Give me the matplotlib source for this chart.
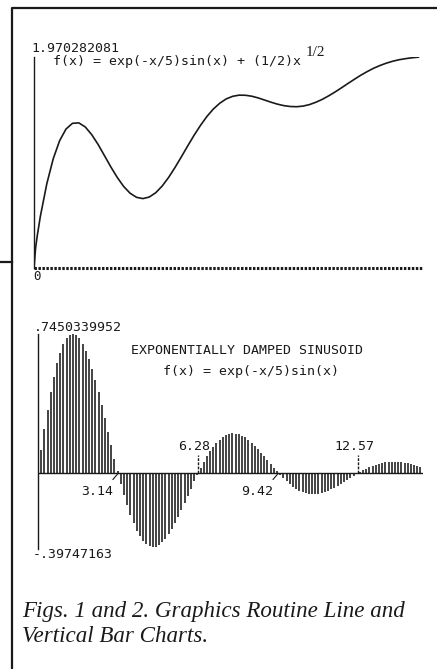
import matplotlib
matplotlib.use('Agg')
import matplotlib.pyplot as plt

# page size in pixels
W, H = 437, 669

# Fig. 1 - line chart
line_x = [0.0, 0.0625, 0.125, 0.25, 0.5, 0.75, 1.0, 1.25, 1.5, 1.75, 2.0,
          2.25, 2.5, 2.75, 3.0, 3.25, 3.5, 3.75, 4.0, 4.25, 4.5, 4.75, 5.0,
          5.25, 5.5, 5.75, 6.0, 6.25, 6.5, 6.75, 7.0, 7.25, 7.5, 7.75, 8.0,
          8.25, 8.5, 8.75, 9.0, 9.25, 9.5, 9.75, 10.0, 10.25, 10.5, 10.75,
          11.0, 11.25, 11.5, 11.75, 12.0, 12.25, 12.5, 12.75, 13.0, 13.25,
          13.5, 13.75, 14.0, 14.25, 14.5, 14.75, 15.0]
line_y = [0.0, 0.187, 0.298, 0.485, 0.787, 1.020, 1.189, 1.298, 1.351, 1.355,
          1.317, 1.246, 1.154, 1.049, 0.943, 0.845, 0.761, 0.698, 0.660, 0.648,
          0.663, 0.703, 0.765, 0.845, 0.938, 1.038, 1.141, 1.241, 1.333, 1.416,
          1.485, 1.539, 1.579, 1.603, 1.614, 1.613, 1.604, 1.588, 1.568, 1.548,
          1.530, 1.516, 1.508, 1.506, 1.512, 1.526, 1.548, 1.575, 1.608, 1.644,
          1.683, 1.723, 1.762, 1.800, 1.834, 1.865, 1.891, 1.913, 1.931, 1.945,
          1.955, 1.963, 1.969]
line_max = 1.970282081

# Fig. 2 - vertical bars, one every 0.125
bar_x = [0.125 * k for k in range(1, 121)]
bar_y = [0.122, 0.235, 0.340, 0.434, 0.516, 0.587, 0.644, 0.689, 0.721, 0.739,
         0.745, 0.739, 0.721, 0.693, 0.656, 0.610, 0.556, 0.496, 0.432, 0.363,
         0.292, 0.220, 0.149, 0.077, 0.009, -0.057, -0.118, -0.174, -0.225, -0.270,
         -0.309, -0.340, -0.365, -0.383, -0.393, -0.398, -0.395, -0.386, -0.372, -0.353,
         -0.329, -0.301, -0.269, -0.235, -0.199, -0.161, -0.124, -0.084, -0.046, -0.010,
         0.026, 0.059, 0.089, 0.117, 0.141, 0.162, 0.179, 0.193, 0.203, 0.209,
         0.212, 0.211, 0.207, 0.200, 0.190, 0.177, 0.162, 0.146, 0.128, 0.109,
         0.089, 0.068, 0.048, 0.027, 0.008, -0.011, -0.029, -0.046, -0.060, -0.074,
         -0.085, -0.095, -0.102, -0.108, -0.111, -0.113, -0.113, -0.111, -0.107, -0.102,
         -0.096, -0.088, -0.079, -0.070, -0.059, -0.049, -0.038, -0.027, -0.016, -0.005,
         0.005, 0.014, 0.023, 0.031, 0.038, 0.045, 0.050, 0.054, 0.057, 0.059,
         0.060, 0.060, 0.059, 0.058, 0.055, 0.051, 0.047, 0.043, 0.038, 0.032]
bar_max = 0.7450339952
bar_min = -0.39747163
tick_pos = [3.14, 6.28, 9.42, 12.57]
tick_lab = ['3.14', '6.28', '9.42', '12.57']

ink = '#1a1a1a'
mono = 'DejaVu Sans Mono'


def px_rect(x0, y0, x1, y1):
    return [x0 / W, 1 - y1 / H, (x1 - x0) / W, (y1 - y0) / H]


def ptext(x, y, s, **kw):
    fig.text(x / W, 1 - y / H, s, color=ink, **kw)


fig = plt.figure(figsize=(W / 100, H / 100), dpi=100)
fig.patch.set_facecolor('white')

# page box
frame = fig.add_axes([0, 0, 1, 1])
frame.set_xlim(0, W)
frame.set_ylim(H, 0)
frame.axis('off')
frame.plot([12, 12, W], [H, 8, 8], color=ink, lw=1.6)
frame.plot([0, 12], [262, 262], color=ink, lw=1.6)

# ---- Fig. 1 ----
ax1 = fig.add_axes(px_rect(34, 57, 421, 268))
ax1.set_xlim(0, 15.1)
ax1.set_ylim(0, line_max)
ax1.axis('off')
ax1.plot(line_x, line_y, color=ink, lw=1.2)
ax1.plot([0, 0], [0, line_max], color=ink, lw=1.0, clip_on=False)
ax1.plot([0, 15.15], [0, 0], color=ink, lw=2.2, ls=(0, (0.8, 0.5)),
         clip_on=False)

ptext(31, 49, '%.9f' % line_max, fontsize=9.5, family=mono, va='center')
ptext(33, 277, '0', fontsize=9, family=mono, va='center')
ptext(53, 62, 'f(x) = exp(-x/5)sin(x) + (1/2)x', fontsize=9.5, family=mono,
      va='center')
ptext(306, 52, '1/2', fontsize=11, family='Liberation Serif', va='center')

# ---- Fig. 2 ----
ax2 = fig.add_axes(px_rect(38, 334, 423, 547))
ax2.set_xlim(0, 15.1)
ax2.set_ylim(bar_min, bar_max)
ax2.axis('off')
ax2.vlines(bar_x, 0, bar_y, color=ink, lw=1.15)
ax2.plot([0, 0], [bar_min - 0.01, bar_max], color=ink, lw=1.0, clip_on=False)
ax2.plot([0, 15.1], [0, 0], color=ink, lw=1.0)

for i, (p, lab) in enumerate(zip(tick_pos, tick_lab)):
    if i % 2 == 0:
        ax2.plot([p - 0.2, p], [-0.035, -0.003], color=ink, lw=0.8)
        ax2.annotate(lab, xy=(p, 0), xytext=(-21, -19), textcoords='offset pixels',
                     ha='center', va='center', fontsize=9.5, family=mono, color=ink)
    else:
        ax2.plot([p, p], [0, 0.096], color=ink, lw=1.0, ls=(0, (2, 1)))
        ax2.annotate(lab, xy=(p, 0), xytext=(-4, 26), textcoords='offset pixels',
                     ha='center', va='center', fontsize=9.5, family=mono, color=ink)

ptext(34, 328, ('%.10f' % bar_max)[1:], fontsize=9.5, family=mono, va='center')
ptext(33, 554, '-' + ('%.8f' % -bar_min)[1:], fontsize=9.5, family=mono,
      va='center')
ptext(247, 350, 'EXPONENTIALLY DAMPED SINUSOID', fontsize=9.5, family=mono,
      ha='center', va='center')
ptext(251, 371, 'f(x) = exp(-x/5)sin(x)', fontsize=9.5, family=mono,
      ha='center', va='center')

# caption
ptext(22, 617, 'Figs. 1 and 2. Graphics Routine Line and', fontsize=16.6,
      family='Liberation Serif', style='italic', va='baseline')
ptext(22, 642, 'Vertical Bar Charts.', fontsize=16.6,
      family='Liberation Serif', style='italic', va='baseline')

fig.savefig('out.png', dpi=100)
